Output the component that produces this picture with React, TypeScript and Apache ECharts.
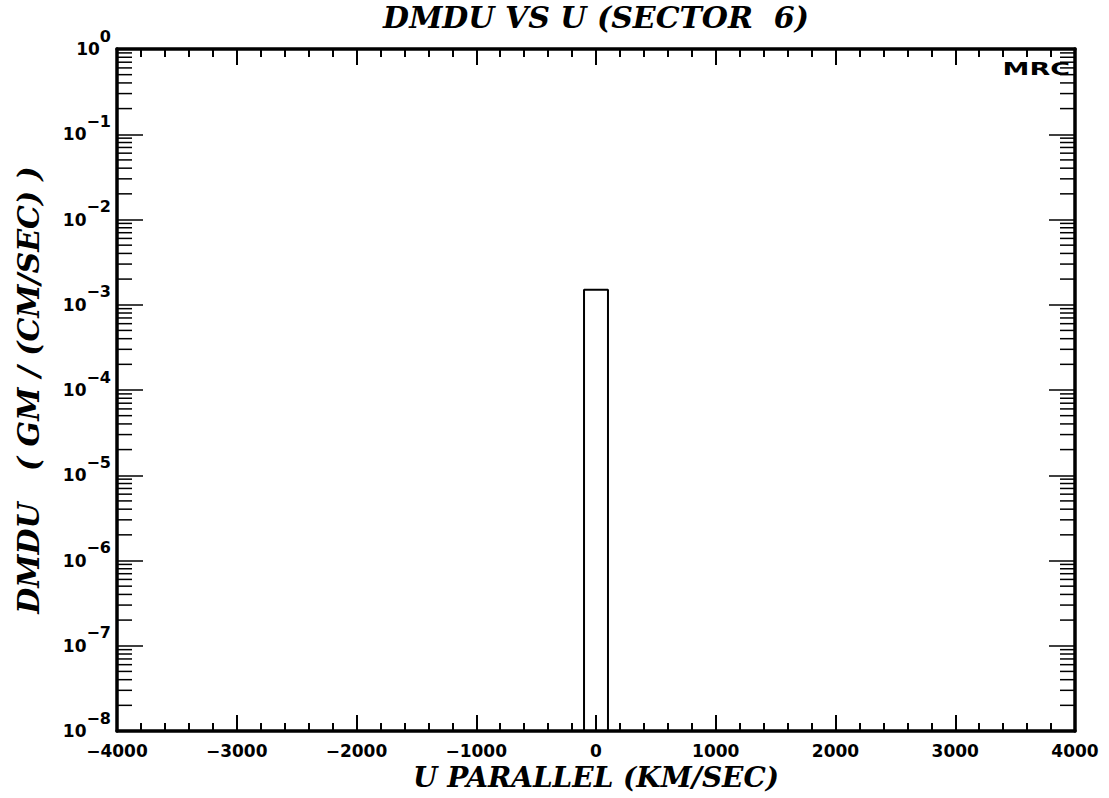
import React, { useEffect, useRef } from "react";
import * as echarts from "echarts";

// ---- data ----
const titleText = "DMDU VS U (SECTOR  6)";
const xAxisTitle = "U PARALLEL (KM/SEC)";
const yAxisTitle = "DMDU   ( GM / (CM/SEC) )";
const xMin = -4000;
const xMax = 4000;
const xInterval = 1000;
const yMin = 1e-8;
const yMax = 1;
const binEdges = [-100, 100];
const binValues = [1.5e-3];
const minorMultipliers = [2, 3, 4, 5, 6, 7, 8, 9];
const decadeExponents = [-8, -7, -6, -5, -4, -3, -2, -1];
const stampText = "MRC";

const SERIF = "'DejaVu Serif', 'Liberation Serif', serif";
const SANS = "'DejaVu Sans', 'Liberation Sans', sans-serif";

function buildStep(): [number, number][] {
  const pts: [number, number][] = [];
  for (let i = 0; i < binValues.length; i++) {
    pts.push([binEdges[i], yMin]);
    pts.push([binEdges[i], binValues[i]]);
    pts.push([binEdges[i + 1], binValues[i]]);
    pts.push([binEdges[i + 1], yMin]);
  }
  return pts;
}

function buildMinor(): [number, number][] {
  const out: [number, number][] = [];
  decadeExponents.forEach((e) => {
    minorMultipliers.forEach((m) => out.push([0, m * Math.pow(10, e)]));
  });
  return out;
}

export default function App() {
  const ref = useRef<HTMLDivElement>(null);
  useEffect(() => {
    if (!ref.current) return;
    const chart = echarts.init(ref.current, null, { renderer: "svg" });
    const axisLineStyle = { color: "#000", width: 3.5 };
    const xCommon = {
      type: "value",
      min: xMin,
      max: xMax,
      interval: xInterval,
      splitLine: { show: false },
      axisLine: { show: true, onZero: false, lineStyle: axisLineStyle },
      axisTick: { show: true, inside: true, length: 16, lineStyle: { color: "#000", width: 2 } },
      minorTick: { show: true, splitNumber: 5, length: 8, lineStyle: { color: "#000", width: 2 } },
    };
    const yCommon = {
      type: "log",
      logBase: 10,
      min: yMin,
      max: yMax,
      splitNumber: 8,
      splitLine: { show: false },
      axisLine: { show: true, onZero: false, lineStyle: axisLineStyle },
      axisTick: { show: true, inside: true, length: 26, lineStyle: { color: "#000", width: 1.5 } },
    };
    const nameStyle = {
      fontFamily: SERIF,
      fontStyle: "italic",
      fontWeight: "bold",
      fontSize: 28,
      color: "#000",
    };
    chart.setOption({
      animation: false,
      backgroundColor: "#fff",
      title: {
        text: titleText,
        left: 596,
        textAlign: "center",
        top: 2,
        padding: 0,
        textStyle: { ...nameStyle, fontSize: 30 },
      },
      grid: { left: 117, right: 34, top: 49, bottom: 67, containLabel: false },
      xAxis: [
        {
          ...xCommon,
          position: "bottom",
          name: xAxisTitle,
          nameLocation: "middle",
          nameGap: 24,
          nameTextStyle: nameStyle,
          axisLabel: {
            margin: 11,
            fontFamily: SANS,
            fontWeight: "bold",
            fontSize: 17,
            color: "#000",
            formatter: (v: number) => (v < 0 ? "\u2212" + Math.abs(v) : String(v)),
          },
        },
        {
          ...xCommon,
          position: "top",
          axisLabel: { show: false },
        },
      ],
      yAxis: [
        {
          ...yCommon,
          position: "left",
          name: yAxisTitle,
          nameLocation: "middle",
          nameGap: 74,
          nameTextStyle: { ...nameStyle, fontSize: 30 },
          axisLabel: {
            margin: 6,
            color: "#000",
            formatter: (v: number) => {
              const e = Math.round(Math.log10(v));
              const sup = e === 0 ? "0" : "\u2212" + Math.abs(e);
              return "{b|10}{s|" + sup + "}";
            },
            rich: {
              b: { fontFamily: SANS, fontWeight: "bold", fontSize: 17, color: "#000", verticalAlign: "middle" },
              s: { fontFamily: SANS, fontWeight: "bold", fontSize: 16, color: "#000", padding: [0, 0, 26, 0] },
            },
          },
        },
        {
          ...yCommon,
          position: "right",
          axisLabel: { show: false },
        },
      ],
      series: [
        {
          type: "line",
          xAxisIndex: 0,
          yAxisIndex: 0,
          data: buildStep(),
          symbol: "none",
          lineStyle: { color: "#000", width: 2 },
        },
        {
          type: "custom",
          xAxisIndex: 0,
          yAxisIndex: 0,
          clip: false,
          silent: true,
          data: buildMinor(),
          renderItem: (params: any, api: any) => {
            const cs = params.coordSys;
            const y = api.coord([api.value(0), api.value(1)])[1];
            const st = { stroke: "#000", lineWidth: 1.5 };
            return {
              type: "group",
              children: [
                { type: "line", shape: { x1: cs.x, y1: y, x2: cs.x + 15, y2: y }, style: st },
                { type: "line", shape: { x1: cs.x + cs.width - 15, y1: y, x2: cs.x + cs.width, y2: y }, style: st },
              ],
            };
          },
        },
      ],
      graphic: [
        {
          type: "text",
          x: 1070,
          y: 60,
          scaleX: 1.5,
          style: {
            text: stampText,
            align: "right",
            verticalAlign: "top",
            fontFamily: SANS,
            fontWeight: "bold",
            fontSize: 18,
            fill: "#000",
          },
        },
      ],
    });
    return () => chart.dispose();
  }, []);
  return (
    <div
      ref={ref}
      style={{ position: "fixed", left: 0, top: 0, width: 1109, height: 798, background: "#fff" }}
    />
  );
}
